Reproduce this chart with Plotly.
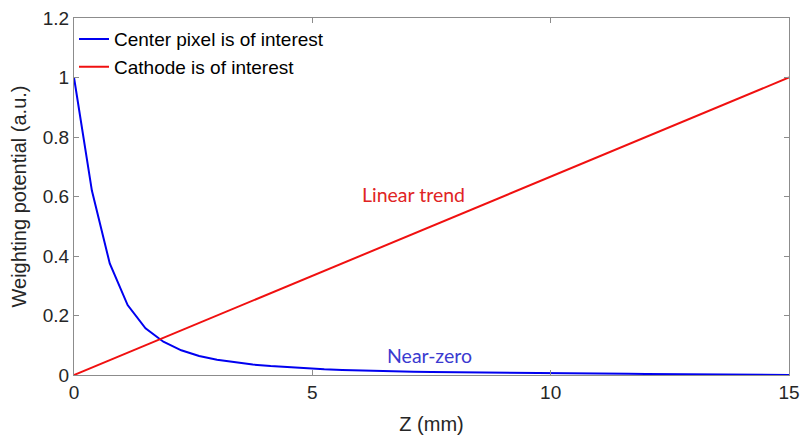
import numpy as np
import plotly.graph_objects as go

# Depth samples (mm) along the detector thickness
z_mm = [i * 0.375 for i in range(41)]

# Weighting potential when the center pixel is the collecting electrode
center_pixel = [1.000, 0.620, 0.375, 0.235, 0.157, 0.112, 0.083, 0.064, 0.051, 0.042,
                0.035, 0.030, 0.026, 0.022, 0.019, 0.017, 0.015, 0.0135, 0.012, 0.011,
                0.010, 0.0092, 0.0085, 0.0078, 0.0072, 0.0066, 0.0061, 0.0056, 0.0051, 0.0047,
                0.0043, 0.0039, 0.0035, 0.0031, 0.0027, 0.0023, 0.0019, 0.0015, 0.0011, 0.0006,
                0.0001]

# Weighting potential when the planar cathode is the collecting electrode
cathode_z = [0, 15]
cathode = [0.0, 1.0]

x_ticks = [0, 5, 10, 15]
y_ticks = [0, 0.2, 0.4, 0.6, 0.8, 1.0, 1.2]

axis_color = "#8c8c8c"
tick_font = dict(family="Arial, Liberation Sans, sans-serif", size=19, color="#262626")

fig = go.Figure()
fig.add_trace(go.Scatter(x=z_mm, y=center_pixel, mode="lines",
                         name="Center pixel is of interest",
                         line=dict(color="#0000f0", width=2)))
fig.add_trace(go.Scatter(x=cathode_z, y=cathode, mode="lines",
                         name="Cathode is of interest",
                         line=dict(color="#f01010", width=2)))

fig.add_annotation(x=7.12, y=0.608, text="Linear trend", showarrow=False,
                   font=dict(family="Lato, sans-serif", size=19.5, color="#e02424"))
fig.add_annotation(x=7.46, y=0.065, text="Near-zero", showarrow=False,
                   font=dict(family="Lato, sans-serif", size=19.5, color="#3a3ad0"))

fig.update_layout(
    width=804, height=441,
    margin=dict(l=74, r=15, t=18, b=66),
    paper_bgcolor="white", plot_bgcolor="white",
    font=tick_font,
    showlegend=True,
    legend=dict(x=0.0, y=0.994, xanchor="left", yanchor="top",
                bgcolor="rgba(255,255,255,0)", borderwidth=0,
                font=dict(family="Arial, Liberation Sans, sans-serif", size=19, color="#000000"),
                itemwidth=30, tracegroupgap=0),
    xaxis=dict(range=[0, 15], tickvals=x_ticks, showline=True, linecolor=axis_color,
               linewidth=1, mirror="ticks", ticks="inside", ticklen=5,
               tickcolor=axis_color, showgrid=False, zeroline=False, automargin=False,
               title=dict(text="Z (mm)", font=dict(size=20, color="#262626"), standoff=15),
               tickfont=tick_font),
    yaxis=dict(range=[0, 1.2], tickvals=y_ticks, showline=True, linecolor=axis_color,
               linewidth=1, mirror="ticks", ticks="inside", ticklen=5,
               tickcolor=axis_color, showgrid=False, zeroline=False, automargin=False,
               title=dict(text="Weighting potential (a.u.)", font=dict(size=20, color="#262626"),
                          standoff=10),
               tickfont=tick_font),
)

fig.write_html("out.html")
